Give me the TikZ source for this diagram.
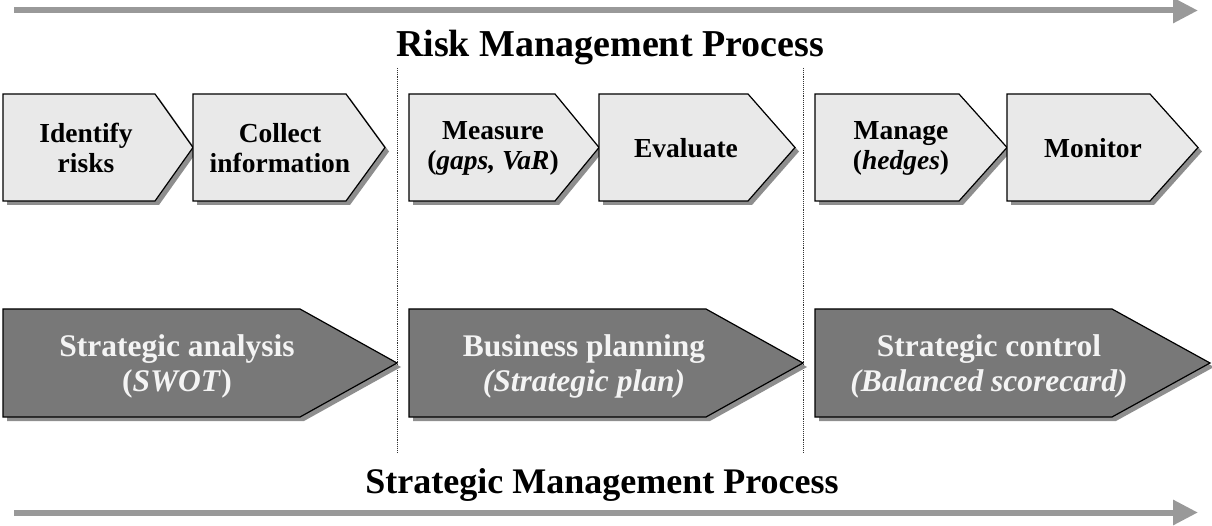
\documentclass[tikz,border=0pt]{standalone}
\usepackage{fontspec}
\setmainfont{Liberation Serif}
\usetikzlibrary{arrows.meta}
\definecolor{arrowgray}{HTML}{999999}
\definecolor{lightbox}{HTML}{E9E9E9}
\definecolor{darkbox}{HTML}{787878}
\definecolor{shadowgray}{HTML}{8E8E8E}
\definecolor{boxtext}{HTML}{F4F4F4}
\tikzset{every picture/.style={line width=0.75pt}}
\tikzset{
  steptext/.style={align=center, inner sep=0pt, font=\fontsize{27.5}{30}\selectfont\bfseries},
  phasetext/.style={align=center, inner sep=0pt, text=boxtext, font=\fontsize{31.5}{35}\selectfont\bfseries},
  proctitle/.style={anchor=base, inner sep=0pt, font=\fontsize{37}{40}\selectfont\bfseries},
  procarrow/.style={arrowgray, line width=6pt, -{Triangle[length=25pt,width=24pt]}},
  divider/.style={densely dotted, line width=0.9pt, black!80}
}
% chevron box: left, tip, start of tip, top, bottom, fill
\newcommand{\chevron}[6]{%
  \fill[shadowgray] ({#1+4},{#4+4}) -- ({#3+4},{#4+4}) -- ({#2+4},{(#4+#5)/2+4}) -- ({#3+4},{#5+4}) -- ({#1+4},{#5+4}) -- cycle;
  \draw[fill=#6, line width=1.2pt] (#1,#4) -- (#3,#4) -- (#2,{(#4+#5)/2}) -- (#3,#5) -- (#1,#5) -- cycle;}

\begin{document}
\begin{tikzpicture}[x=1pt,y=-1pt]
\useasboundingbox (0,0) rectangle (1212,526);

%Arrows
\coordinate (riskstart) at (14,10.5);
\coordinate (riskend) at (1198,10.5);
\coordinate (stratstart) at (14,512.5);
\coordinate (stratend) at (1198,512.5);
\draw[procarrow] (riskstart) -- (riskend);
\draw[procarrow] (stratstart) -- (stratend);

% Titles
\node[proctitle, font=\fontsize{38}{40}\selectfont\bfseries] (risktitle) at (610,57) {Risk Management Process};
\node[proctitle, font=\fontsize{36}{40}\selectfont\bfseries] (strattitle) at (602,493) {Strategic Management Process};

%Dividers
\coordinate (diva) at (397,68);
\coordinate (divb) at (803,68);
\draw[divider] (diva) -- ++(0,384);
\draw[divider] (divb) -- ++(0,384);

%Risk steps
\chevron{3}{193}{155}{94}{201}{lightbox}
\chevron{193}{385}{346}{94}{201}{lightbox}
\chevron{409}{599}{555}{94}{201}{lightbox}
\chevron{599}{795}{748}{94}{201}{lightbox}
\chevron{815}{1007}{959}{94}{201}{lightbox}
\chevron{1007}{1198}{1150}{94}{201}{lightbox}

% Text Node
\node[steptext] (identify) at (86,148) {Identify\\risks};
\node[steptext] (collect) at (280,148) {Collect\\information};
\node[steptext] (measure) at (493,148) {Measure\\(\textit{gaps, VaR})};
\node[steptext] (evaluate) at (686,148) {Evaluate};
\node[steptext] (manage) at (901,148) {Manage\\(\textit{hedges})};
\node[steptext] (monitor) at (1093,148) {Monitor};

%Strategic phases
\chevron{3}{397}{300}{309}{417}{darkbox}
\chevron{409}{803}{706}{309}{417}{darkbox}
\chevron{815}{1210}{1112}{309}{417}{darkbox}

% Text Node
\node[phasetext] (analysis) at (177,366) {Strategic analysis\\(\textit{SWOT})};
\node[phasetext] (planning) at (584,366) {Business planning\\\textit{(Strategic plan)}};
\node[phasetext] (control) at (989,366) {Strategic control\\\textit{(Balanced scorecard)}};

\end{tikzpicture}
\end{document}
